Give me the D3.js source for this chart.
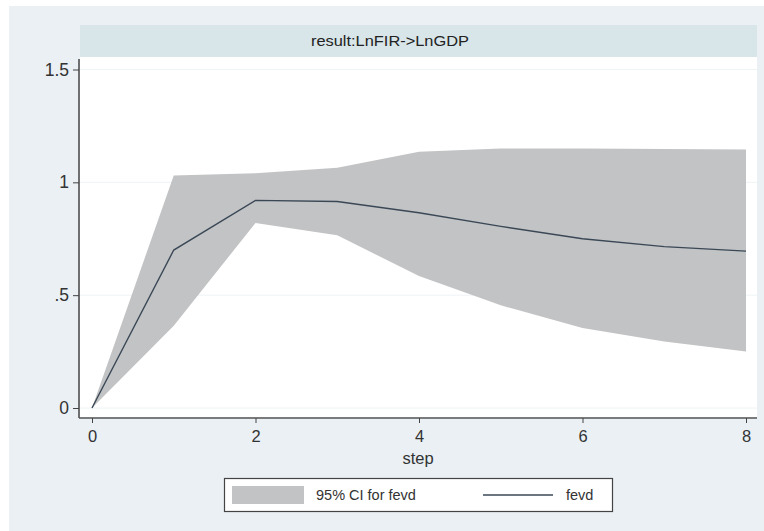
<!DOCTYPE html>
<html>
<head>
<meta charset="utf-8">
<script src="https://cdn.jsdelivr.net/npm/d3@7"></script>
<style>
body { margin:0; background:#fff; }
svg { display:block; font-family:"Liberation Sans", Arial, sans-serif; }
</style>
</head>
<body>
<svg id="chart" width="764" height="531"></svg>
<script>
// data
var steps = [0, 1, 2, 3, 4, 5, 6, 7, 8];
var fevd = [0, 0.70, 0.92, 0.915, 0.865, 0.805, 0.75, 0.715, 0.695];
var ciUpper = [0, 1.03, 1.04, 1.065, 1.135, 1.15, 1.15, 1.148, 1.145];
var ciLower = [0, 0.365, 0.82, 0.765, 0.585, 0.455, 0.355, 0.295, 0.25];
var yTicks = [0, 0.5, 1, 1.5];
var yTickLabels = ["0", ".5", "1", "1.5"];
var xTicks = [0, 2, 4, 6, 8];
var title = "result:LnFIR->LnGDP";

var rows = steps.map(function (s, i) {
  return { step: s, fevd: fevd[i], lo: ciLower[i], hi: ciUpper[i] };
});

var svg = d3.select("#chart");

// outer graph region
svg.append("rect").attr("x", 9).attr("y", 6).attr("width", 755).attr("height", 525)
  .attr("fill", "#eaf0f4");

// plot region
var plot = { left: 80, right: 757, top: 57, bottom: 417 };
svg.append("rect").attr("x", plot.left).attr("y", plot.top)
  .attr("width", plot.right - plot.left).attr("height", plot.bottom - plot.top)
  .attr("fill", "#ffffff");

// header strip
svg.append("rect").attr("x", 80).attr("y", 25).attr("width", 677).attr("height", 32)
  .attr("fill", "#d8e5e9");
svg.append("text").attr("x", 311).attr("y", 46)
  .attr("font-size", 14.5).attr("fill", "#222")
  .attr("textLength", 158).attr("lengthAdjust", "spacingAndGlyphs")
  .text(title);

var x = d3.scaleLinear().domain([0, 8]).range([92, 746]);
var y = d3.scaleLinear().domain([0, 1.5]).range([408, 69.5]);

// faint grid
svg.append("g").selectAll("line").data(yTicks).enter().append("line")
  .attr("x1", plot.left).attr("x2", plot.right)
  .attr("y1", function (d) { return y(d); }).attr("y2", function (d) { return y(d); })
  .attr("stroke", "#eef3f5").attr("stroke-width", 1);

// CI band
var area = d3.area()
  .x(function (d) { return x(d.step); })
  .y0(function (d) { return y(d.lo); })
  .y1(function (d) { return y(d.hi); });
svg.append("path").datum(rows).attr("d", area).attr("fill", "#c2c3c5");

// fevd line
var line = d3.line()
  .x(function (d) { return x(d.step); })
  .y(function (d) { return y(d.fevd); });
svg.append("path").datum(rows).attr("d", line)
  .attr("fill", "none").attr("stroke", "#3a4856").attr("stroke-width", 1.4);

// y axis
var yAxis = d3.axisLeft(y).tickValues(yTicks)
  .tickFormat(function (d, i) { return yTickLabels[i]; })
  .tickSize(6).tickPadding(4);
var gy = svg.append("g").attr("transform", "translate(" + (plot.left - 1) + ",0)").call(yAxis);
gy.select(".domain").attr("d", "M0," + (plot.top + 2) + "V" + (plot.bottom + 1))
  .attr("stroke", "#444").attr("stroke-width", 1.5);
gy.selectAll(".tick line").attr("stroke", "#444");
gy.selectAll(".tick text").attr("font-size", 17.5).attr("fill", "#333")
  .attr("font-family", "Liberation Sans, Arial, sans-serif");

// x axis
var xAxis = d3.axisBottom(x).tickValues(xTicks).tickSize(5).tickPadding(7);
var gx = svg.append("g").attr("transform", "translate(0," + (plot.bottom + 1) + ")").call(xAxis);
gx.select(".domain").attr("d", "M" + (plot.left - 1) + ",0H" + plot.right)
  .attr("stroke", "#555").attr("stroke-width", 1.5);
gx.selectAll(".tick line").attr("stroke", "#444");
gx.selectAll(".tick text").attr("font-size", 16.5).attr("fill", "#333")
  .attr("font-family", "Liberation Sans, Arial, sans-serif");

svg.append("text").attr("x", 418).attr("y", 464).attr("text-anchor", "middle")
  .attr("font-size", 16.5).attr("fill", "#333").text("step");

// legend
var leg = svg.append("g");
leg.append("rect").attr("x", 224.5).attr("y", 478.5).attr("width", 388).attr("height", 33)
  .attr("fill", "#fff").attr("stroke", "#444").attr("stroke-width", 1.2);
leg.append("rect").attr("x", 232).attr("y", 486).attr("width", 72).attr("height", 18)
  .attr("fill", "#c2c3c5");
leg.append("text").attr("x", 316).attr("y", 500).attr("font-size", 14.5).attr("fill", "#333")
  .text("95% CI for fevd");
leg.append("line").attr("x1", 483).attr("x2", 553).attr("y1", 495).attr("y2", 495)
  .attr("stroke", "#3a4856").attr("stroke-width", 1.4);
leg.append("text").attr("x", 566).attr("y", 500).attr("font-size", 14.5).attr("fill", "#333")
  .text("fevd");
</script>
</body>
</html>
